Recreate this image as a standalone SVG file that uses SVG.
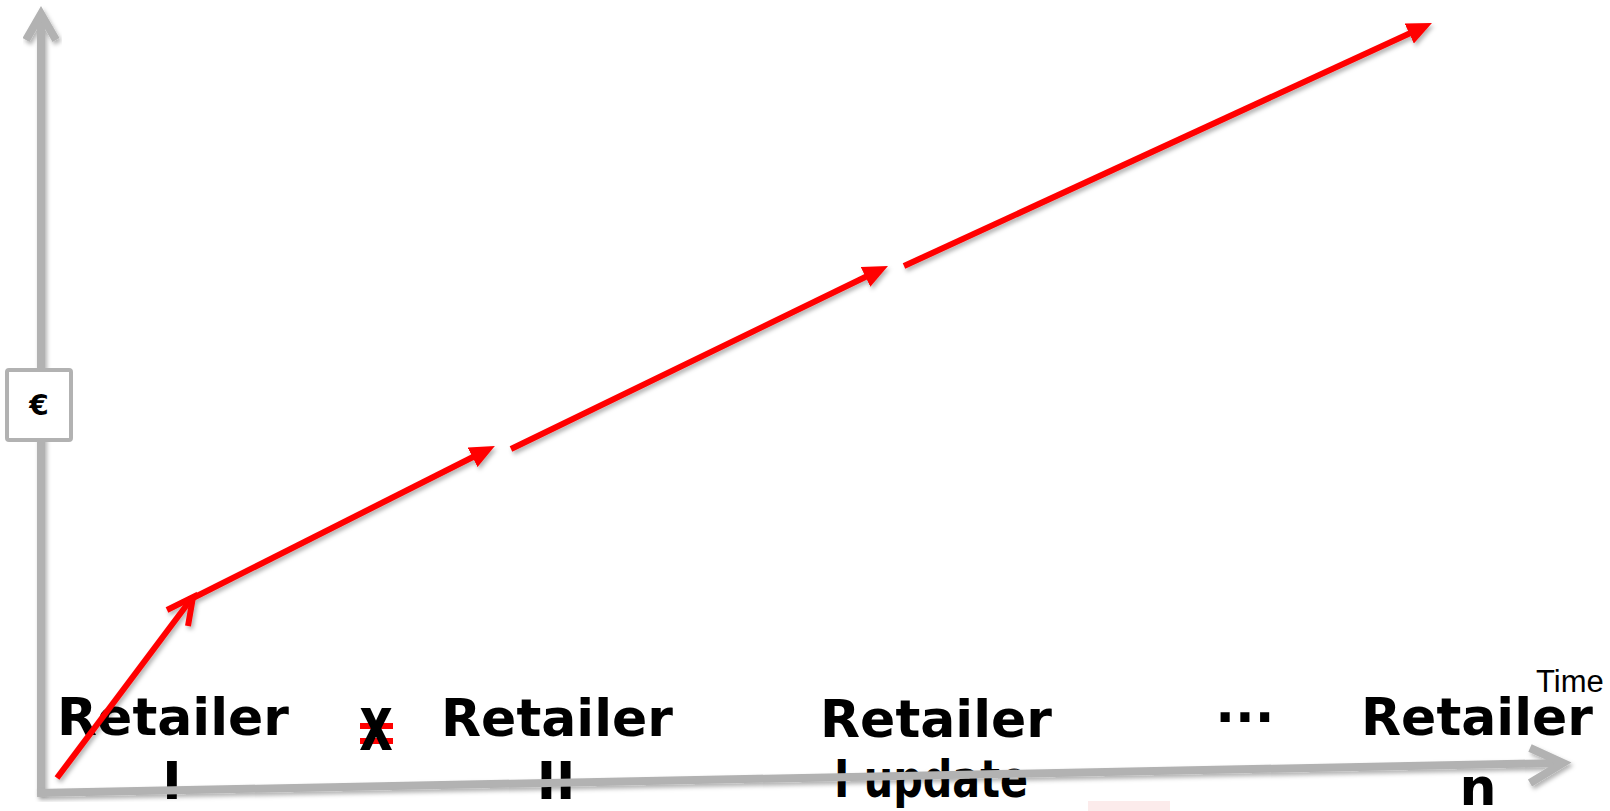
<svg xmlns="http://www.w3.org/2000/svg" width="1610" height="811" viewBox="0 0 1610 811">
<style>
.axis{stroke:#b2b2b2;stroke-width:8;fill:none;stroke-linejoin:miter}
.red{stroke:#ff0000;stroke-width:6;fill:none}
.lbl{font-family:"DejaVu Sans",Verdana,sans-serif;font-weight:bold;font-size:52px;fill:#000;text-anchor:middle}
</style>
<defs>
<filter id="sh" x="-10%" y="-10%" width="130%" height="130%">
<feDropShadow dx="2" dy="3" stdDeviation="2" flood-color="#000" flood-opacity="0.3"/>
</filter>
<marker id="ah" markerUnits="userSpaceOnUse" markerWidth="26" markerHeight="23" refX="5" refY="11" orient="auto" viewBox="0 0 26 22">
<path d="M0,0 L25,11 L0,22 z" fill="#ff0000"/>
</marker>
</defs>
<rect width="1610" height="811" fill="#ffffff"/>
<rect x="1088" y="801" width="82" height="10" fill="#fcebeb"/>
<g id="y-axis" filter="url(#sh)">
<line class="axis" x1="41" y1="793" x2="41" y2="14"/>
<polyline class="axis" points="26,40 41,14 56,40"/>
</g>
<g id="euro">
<rect x="7" y="370" width="64" height="70" rx="2" fill="#fff" stroke="#b2b2b2" stroke-width="4"/>
<text x="39" y="415" font-family="DejaVu Sans,sans-serif" font-weight="bold" font-size="28" text-anchor="middle">€</text>
</g>
<g id="labels">
<text class="lbl" x="173" y="735">Retailer</text>
<text class="lbl" x="172" y="799">I</text>
<text class="lbl" x="557" y="736">Retailer</text>
<text class="lbl" x="556" y="799">II</text>
<text class="lbl" x="936" y="737">Retailer</text>
<text class="lbl" x="931" y="797" textLength="194" lengthAdjust="spacingAndGlyphs">I update</text>
<text class="lbl" x="1477" y="735">Retailer</text>
<text class="lbl" x="1478" y="805" font-size="54">n</text>
<text class="lbl" x="1245" y="722" font-size="25">...</text>
<g id="x-mark">
<rect x="360" y="723" width="33" height="6" fill="#ff0000"/>
<rect x="360" y="738" width="33" height="6" fill="#ff0000"/>
<text class="lbl" font-size="47" transform="translate(376,750) scale(1,1.47)">x</text>
</g>
<text x="1536" y="692" font-family="Liberation Sans,Arial,sans-serif" font-size="31" fill="#000">Time</text>
</g>
<g id="x-axis" filter="url(#sh)">
<line class="axis" x1="37" y1="793" x2="1562" y2="763"/>
<polyline class="axis" points="1530,748 1563,763 1530,783"/>
</g>
<g id="connectors" filter="url(#sh)">
<line class="red" x1="57" y1="778" x2="192" y2="598"/>
<polyline class="red" points="167,610 193,597 188,626" stroke-width="5"/>
<line class="red" x1="191" y1="599" x2="477" y2="455" marker-end="url(#ah)"/>
<line class="red" x1="511" y1="449" x2="870" y2="274.7" marker-end="url(#ah)"/>
<line class="red" x1="904" y1="266" x2="1413.8" y2="31.4" marker-end="url(#ah)"/>
</g>
</svg>
